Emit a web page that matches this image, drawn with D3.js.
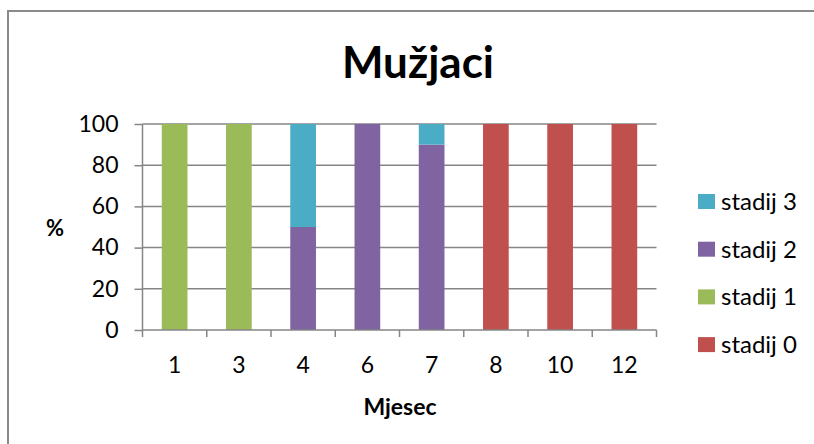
<!DOCTYPE html>
<html lang="hr">
<head>
<meta charset="UTF-8">
<title>Mužjaci</title>
<style>
	body{margin:0;background:#fff;}
	svg text{font-family:Lato, "Open Sans", sans-serif;fill:#000;}
	.grid line{stroke:#868686;stroke-width:1.5px;}
	.axis path, .axis line{stroke:#868686;stroke-width:1.5px;}
</style>
</head>
<body>
<svg id="chart" width="814" height="444"></svg>
<script src="https://d3js.org/d3.v7.min.js"></script>
<script>
	// data
	var months = ['1','3','4','6','7','8','10','12'];
	var stadij0 = [0, 0, 0, 0, 0, 100, 100, 100];
	var stadij1 = [100, 100, 0, 0, 0, 0, 0, 0];
	var stadij2 = [0, 0, 50, 100, 90, 0, 0, 0];
	var stadij3 = [0, 0, 50, 0, 10, 0, 0, 0];
	var yTicks = [0, 20, 40, 60, 80, 100];

	var seriesNames = ['stadij 0','stadij 1','stadij 2','stadij 3'];
	var colors = ['#C0504D','#9BBB59','#8064A2','#4BACC6'];

	var rows = months.map(function(m, i){
		return {month:m, s0:stadij0[i], s1:stadij1[i], s2:stadij2[i], s3:stadij3[i]};
	});

	var svg = d3.select('#chart');

	// outer border of the chart object
	svg.append('rect')
		.attr('x', 8).attr('y', 11)
		.attr('width', 830).attr('height', 460)
		.attr('fill', 'none')
		.attr('stroke', '#8a8a8a')
		.attr('stroke-width', 2);

	var plotLeft = 142.5, plotRight = 656.5, plotTop = 124, plotBottom = 330;

	var x = d3.scaleBand().domain(months).range([plotLeft, plotRight]).paddingInner(0.6).paddingOuter(0.3);
	var xTick = d3.scaleBand().domain(months).range([plotLeft, plotRight]);
	var y = d3.scaleLinear().domain([0, 100]).range([plotBottom, plotTop]);

	// gridlines
	svg.append('g').attr('class', 'grid')
		.selectAll('line')
		.data(yTicks.filter(function(t){ return t > 0; }))
		.enter().append('line')
			.attr('x1', plotLeft).attr('x2', plotRight)
			.attr('y1', d => y(d)).attr('y2', d => y(d));

	// stacked bars
	var stack = d3.stack().keys(['s0','s1','s2','s3']);
	var layers = stack(rows);

	svg.append('g').selectAll('g')
		.data(layers)
		.enter().append('g')
			.attr('fill', (d, i) => colors[i])
		.selectAll('rect')
		.data(d => d)
		.enter().append('rect')
			.attr('x', d => x(d.data.month))
			.attr('width', x.bandwidth())
			.attr('y', d => y(d[1]))
			.attr('height', d => y(d[0]) - y(d[1]));

	// y axis
	var yAxis = svg.append('g').attr('class', 'axis')
		.attr('transform', 'translate(' + plotLeft + ',0)')
		.call(d3.axisLeft(y).tickValues(yTicks).tickSize(8).tickSizeOuter(0).tickPadding(16));
	yAxis.select('.domain').remove();
	yAxis.append('line').attr('x1', 0).attr('x2', 0).attr('y1', plotTop).attr('y2', plotBottom);
	yAxis.selectAll('text').style('font-size', '23px').style('font-family', 'Lato, sans-serif').attr('fill', '#000');

	// x axis: ticks between categories
	var xAxis = svg.append('g').attr('class', 'axis')
		.attr('transform', 'translate(0,' + plotBottom + ')');
	xAxis.append('line')
		.attr('x1', plotLeft).attr('x2', plotRight).attr('y1', 0).attr('y2', 0);
	xAxis.selectAll('.tk')
		.data(months.concat(['end']))
		.enter().append('line')
			.attr('class', 'tk')
			.attr('x1', (d, i) => i < months.length ? xTick(d) : plotRight)
			.attr('x2', (d, i) => i < months.length ? xTick(d) : plotRight)
			.attr('y1', 0).attr('y2', 7);
	xAxis.selectAll('text')
		.data(months)
		.enter().append('text')
			.attr('x', d => xTick(d) + xTick.bandwidth() / 2)
			.attr('y', 43)
			.attr('text-anchor', 'middle')
			.style('font-size', '23px')
			.text(d => d);

	// title
	svg.append('text')
		.attr('x', 418).attr('y', 78)
		.attr('text-anchor', 'middle')
		.style('font-size', '44px').style('font-weight', 'bold')
		.text('Mužjaci');

	// axis titles
	svg.append('text')
		.attr('x', 400).attr('y', 415)
		.attr('text-anchor', 'middle')
		.style('font-size', '23px').style('font-weight', 'bold')
		.text('Mjesec');
	svg.append('text')
		.attr('x', 55).attr('y', 236)
		.attr('text-anchor', 'middle')
		.style('font-size', '22px').style('font-weight', 'bold')
		.text('%');

	// legend, top item is stadij 3
	var legend = svg.append('g').selectAll('g')
		.data(seriesNames.slice().reverse())
		.enter().append('g')
			.attr('transform', (d, i) => 'translate(698,' + (194 + i * 47.7) + ')');
	legend.append('rect')
		.attr('width', 17).attr('height', 15)
		.attr('fill', d => colors[seriesNames.indexOf(d)]);
	legend.append('text')
		.attr('x', 23).attr('y', 16)
		.style('font-size', '24px')
		.text(d => d);
</script>
</body>
</html>
